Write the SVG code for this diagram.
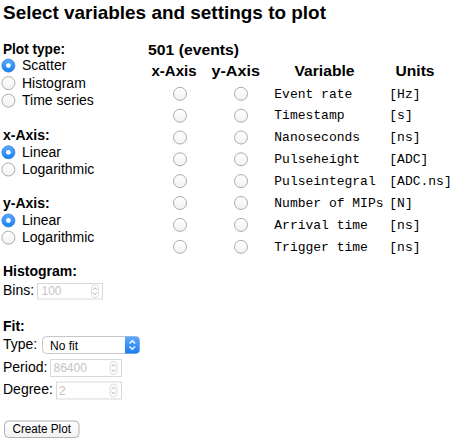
<svg xmlns="http://www.w3.org/2000/svg" width="458" height="443" viewBox="0 0 458 443">
<defs>
<linearGradient id="rOff" x1="0" y1="0" x2="0" y2="1"><stop offset="0" stop-color="#ffffff"/><stop offset="1" stop-color="#f2f2f2"/></linearGradient>
<linearGradient id="rOn" x1="0" y1="0" x2="0" y2="1"><stop offset="0" stop-color="#5eaaf8"/><stop offset="1" stop-color="#1580f5"/></linearGradient>
<linearGradient id="btn" x1="0" y1="0" x2="0" y2="1"><stop offset="0" stop-color="#ffffff"/><stop offset="1" stop-color="#f1f1f1"/></linearGradient>
<linearGradient id="sel" x1="0" y1="0" x2="0" y2="1"><stop offset="0" stop-color="#5fa9f9"/><stop offset="1" stop-color="#1a7ef5"/></linearGradient>
<g id="spin"><rect x="-3.5" y="-6.5" width="7" height="13" rx="3.5" fill="#fff" stroke="#d4d4d4" stroke-width="0.8"/><path d="M-1.8,-1.2 L0,-3.6 L1.8,-1.2 M-1.8,1.2 L0,3.6 L1.8,1.2" fill="none" stroke="#b0b0b0" stroke-width="0.9"/></g>
</defs>
<style>
text{font-family:"Liberation Sans",Arial,Helvetica,sans-serif;fill:#000}
.h{font-weight:bold;font-size:14px}
.t{font-size:14px}
.th{font-weight:bold;font-size:15px}
.m{font-family:"Liberation Mono","Courier New",monospace;font-size:13px}
.v{font-size:12px;fill:#c4c4c4}
.off{fill:url(#rOff);stroke:#acacac;stroke-width:1}
.on{fill:url(#rOn);stroke:#2d7fe0;stroke-width:0.8}
.dot{fill:#fff}
.box{fill:#fff;stroke:#d9d9d9;stroke-width:1}
</style>
<rect width="458" height="443" fill="#fff"/>
<text x="3" y="18.7" font-weight="bold" font-size="19" textLength="323" lengthAdjust="spacingAndGlyphs">Select variables and settings to plot</text>

<g id="plot-type">
<text class="h" x="3" y="54" textLength="62" lengthAdjust="spacingAndGlyphs">Plot type:</text>
<circle class="on" cx="8.4" cy="65.6" r="6.5"/><circle class="dot" cx="8.4" cy="65.6" r="2.4"/>
<text class="t" x="22" y="70.3">Scatter</text>
<circle class="off" cx="8.4" cy="83.1" r="6.5"/>
<text class="t" x="22" y="87.8">Histogram</text>
<circle class="off" cx="8.4" cy="100.6" r="6.5"/>
<text class="t" x="22" y="105.3">Time series</text>
</g>

<g id="x-axis">
<text class="h" x="3" y="139.5">x-Axis:</text>
<circle class="on" cx="8.4" cy="152.3" r="6.5"/><circle class="dot" cx="8.4" cy="152.3" r="2.4"/>
<text class="t" x="22" y="157">Linear</text>
<circle class="off" cx="8.4" cy="169.5" r="6.5"/>
<text class="t" x="22" y="174.2">Logarithmic</text>
</g>

<g id="y-axis">
<text class="h" x="3" y="207.5">y-Axis:</text>
<circle class="on" cx="8.4" cy="220.5" r="6.5"/><circle class="dot" cx="8.4" cy="220.5" r="2.4"/>
<text class="t" x="22" y="225.2">Linear</text>
<circle class="off" cx="8.4" cy="237.7" r="6.5"/>
<text class="t" x="22" y="242.4">Logarithmic</text>
</g>

<g id="histogram">
<text class="h" x="3" y="276">Histogram:</text>
<text class="t" x="3" y="294.5">Bins:</text>
<rect class="box" x="37.5" y="283.5" width="65" height="15.5"/>
<text class="v" x="41.5" y="295.3">100</text>
<use href="#spin" x="95" y="291.2"/>
</g>

<g id="fit">
<text class="h" x="3" y="330.5">Fit:</text>
<text class="t" x="3" y="349.3">Type:</text>
<rect x="42.5" y="336.5" width="97" height="17" rx="4" fill="#fff" stroke="#c6c6c6"/>
<path d="M125,336.5 H135.5 A4,4 0 0 1 139.5,340.5 V349.5 A4,4 0 0 1 135.5,353.5 H125 Z" fill="url(#sel)"/>
<path d="M129.5,343.5 L132.3,340.7 L135.1,343.5 M129.5,346.5 L132.3,349.3 L135.1,346.5" fill="none" stroke="#fff" stroke-width="1.3"/>
<text x="50" y="349.5" font-size="12">No fit</text>
<text class="t" x="3" y="372">Period:</text>
<rect class="box" x="50.5" y="359.5" width="71" height="17"/>
<text class="v" x="53.5" y="372">86400</text>
<use href="#spin" x="113.5" y="368"/>
<text class="t" x="3" y="393.5">Degree:</text>
<rect class="box" x="56.5" y="382" width="65" height="17"/>
<text class="v" x="59" y="394.5">2</text>
<use href="#spin" x="113.5" y="390.5"/>
</g>

<g id="create-plot">
<rect x="4.5" y="421" width="74.5" height="16.5" rx="4" fill="url(#btn)" stroke="#a8a8a8" stroke-width="0.9"/>
<text x="41.7" y="433.3" font-size="12" text-anchor="middle" textLength="58.5" lengthAdjust="spacingAndGlyphs">Create Plot</text>
</g>

<g id="variables">
<text x="148" y="55.3" font-weight="bold" font-size="14.5" textLength="91" lengthAdjust="spacingAndGlyphs">501 (events)</text>
<text class="th" x="151.5" y="75.5" textLength="45" lengthAdjust="spacingAndGlyphs">x-Axis</text>
<text class="th" x="211.5" y="75.5" textLength="48.5" lengthAdjust="spacingAndGlyphs">y-Axis</text>
<text class="th" x="294.5" y="75.5" textLength="60" lengthAdjust="spacingAndGlyphs">Variable</text>
<text class="th" x="395.5" y="75.5" textLength="39" lengthAdjust="spacingAndGlyphs">Units</text>

<g class="radios">
<circle class="off" cx="180" cy="93.8" r="6.5"/><circle class="off" cx="241" cy="93.8" r="6.5"/>
<circle class="off" cx="180" cy="115.7" r="6.5"/><circle class="off" cx="241" cy="115.7" r="6.5"/>
<circle class="off" cx="180" cy="137.5" r="6.5"/><circle class="off" cx="241" cy="137.5" r="6.5"/>
<circle class="off" cx="180" cy="159.3" r="6.5"/><circle class="off" cx="241" cy="159.3" r="6.5"/>
<circle class="off" cx="180" cy="181.1" r="6.5"/><circle class="off" cx="241" cy="181.1" r="6.5"/>
<circle class="off" cx="180" cy="203" r="6.5"/><circle class="off" cx="241" cy="203" r="6.5"/>
<circle class="off" cx="180" cy="224.9" r="6.5"/><circle class="off" cx="241" cy="224.9" r="6.5"/>
<circle class="off" cx="180" cy="246.8" r="6.5"/><circle class="off" cx="241" cy="246.8" r="6.5"/>
</g>
<g class="labels">
<text class="m" x="274.3" y="97.5">Event rate</text><text class="m" x="389.3" y="97.5">[Hz]</text>
<text class="m" x="274.3" y="119.4">Timestamp</text><text class="m" x="389.3" y="119.4">[s]</text>
<text class="m" x="274.3" y="141.2">Nanoseconds</text><text class="m" x="389.3" y="141.2">[ns]</text>
<text class="m" x="274.3" y="163">Pulseheight</text><text class="m" x="389.3" y="163">[ADC]</text>
<text class="m" x="274.3" y="184.8">Pulseintegral</text><text class="m" x="389.3" y="184.8">[ADC.ns]</text>
<text class="m" x="274.3" y="206.7">Number of MIPs</text><text class="m" x="389.3" y="206.7">[N]</text>
<text class="m" x="274.3" y="228.6">Arrival time</text><text class="m" x="389.3" y="228.6">[ns]</text>
<text class="m" x="274.3" y="250.5">Trigger time</text><text class="m" x="389.3" y="250.5">[ns]</text>
</g>
</g>
</svg>
